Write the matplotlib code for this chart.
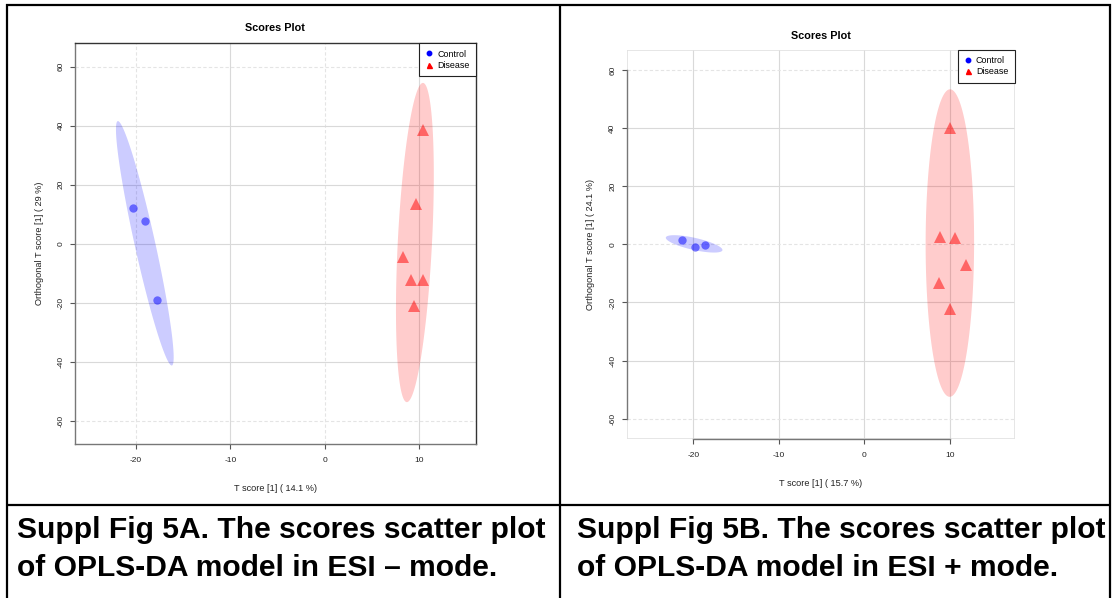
import numpy as np
import matplotlib.pyplot as plt
from matplotlib.lines import Line2D
from matplotlib.patches import Rectangle

plt.rcParams['font.family'] = ['Liberation Sans', 'DejaVu Sans']
plt.rcParams['axes.unicode_minus'] = False

# OPLS-DA scores, ESI - mode
neg_control_t = [-20.3, -19.1, -17.8]
neg_control_o = [12.0, 7.7, -19.2]
neg_disease_t = [10.45, 9.70, 8.26, 9.13, 10.38, 9.51]
neg_disease_o = [38.7, 13.6, -4.4, -12.1, -12.1, -21.1]

# OPLS-DA scores, ESI + mode
pos_control_t = [-21.3, -19.8, -18.6]
pos_control_o = [1.5, -0.9, -0.1]
pos_disease_t = [9.96, 8.84, 10.54, 11.87, 8.75, 9.96]
pos_disease_o = [40.2, 2.5, 2.3, -7.0, -13.2, -22.1]

groups = ['Control', 'Disease']
x_ticks = [-20, -10, 0, 10]
y_ticks = [-60, -40, -20, 0, 20, 40, 60]

neg_xlabel = 'T score [1] ( 14.1 %)'
neg_ylabel = 'Orthogonal T score [1] ( 29 %)'
pos_xlabel = 'T score [1] ( 15.7 %)'
pos_ylabel = 'Orthogonal T score [1] ( 24.1 %)'

neg_caption = ['Suppl Fig 5A. The scores scatter plot',
               'of OPLS-DA model in ESI \u2013 mode.']
pos_caption = ['Suppl Fig 5B. The scores scatter plot',
               'of OPLS-DA model in ESI + mode.']

W, H = 1113, 598


def conf_ellipse(x, y, level=0.95, n=300):
    # 95% ellipse from the group covariance (same as R's ellipse())
    x = np.asarray(x)
    y = np.asarray(y)
    cov = np.cov(x, y)
    r = np.sqrt(-2 * np.log(1 - level))
    chol = np.linalg.cholesky(cov)
    t = np.linspace(0, 2 * np.pi, n)
    pts = chol @ np.vstack([np.cos(t), np.sin(t)]) * r
    return x.mean() + pts[0], y.mean() + pts[1]


def px_axes(left, top, right, bottom):
    return [left / W, 1 - bottom / H, (right - left) / W, (bottom - top) / H]


def scores_plot(ax, ct, co, dt, do, xlabel, ylabel, xlim, ylim,
                solid_x, dashed_x, solid_y, dashed_y, boxed, title_pad):
    for v in solid_x:
        ax.axvline(v, color='#d9d9d9', lw=0.8, zorder=0)
    for v in dashed_x:
        ax.axvline(v, color='#e4e4e4', lw=0.8, ls=(0, (3, 2)), zorder=0)
    for v in solid_y:
        ax.axhline(v, color='#d9d9d9', lw=0.8, zorder=0)
    for v in dashed_y:
        ax.axhline(v, color='#e4e4e4', lw=0.8, ls=(0, (3, 2)), zorder=0)

    ex, ey = conf_ellipse(ct, co)
    ax.fill(ex, ey, color='blue', alpha=0.2, lw=0, zorder=1)
    ex, ey = conf_ellipse(dt, do)
    ax.fill(ex, ey, color='red', alpha=0.2, lw=0, zorder=1)

    ax.plot(ct, co, 'o', color='blue', alpha=0.5, ms=6, mew=0, zorder=2)
    ax.plot(dt, do, '^', color='red', alpha=0.5, ms=8, mew=0, zorder=2)

    ax.set_xlim(*xlim)
    ax.set_ylim(*ylim)
    ax.set_xticks(x_ticks)
    ax.set_yticks(y_ticks)
    ax.tick_params(labelsize=6, colors='#555555', labelcolor='#222222',
                   length=3.5, width=0.8, pad=6)
    ax.tick_params(axis='y', pad=4)
    for lab in ax.get_yticklabels():
        lab.set_rotation(90)
        lab.set_va('center')

    if boxed:
        for s in ['top', 'right']:
            ax.spines[s].set_color('#333333')
        for s in ['left', 'bottom']:
            ax.spines[s].set_color('#777777')
        for s in ax.spines.values():
            s.set_linewidth(1.0)
    else:
        ax.add_patch(Rectangle((0, 0), 1, 1, transform=ax.transAxes, fill=False,
                               edgecolor='#e2e2e2', lw=1.2, zorder=0.5))
        for s in ['top', 'right']:
            ax.spines[s].set_visible(False)
        ax.spines['left'].set_bounds(y_ticks[0], y_ticks[-1])
        ax.spines['bottom'].set_bounds(x_ticks[0], x_ticks[-1])
        for s in ['left', 'bottom']:
            ax.spines[s].set_color('#777777')
            ax.spines[s].set_linewidth(1.0)

    ax.set_xlabel(xlabel, fontsize=6.6, color='#222222', labelpad=14)
    ax.set_ylabel(ylabel, fontsize=6.6, color='#222222', labelpad=10)
    ax.set_title('Scores Plot', fontsize=7.8, fontweight='bold', pad=title_pad)

    handles = [Line2D([], [], marker='o', color='blue', ls='', ms=3.2),
               Line2D([], [], marker='^', color='red', ls='', ms=3.6)]
    leg = ax.legend(handles, groups, loc='upper right', fontsize=6.4,
                    borderaxespad=0, fancybox=False, framealpha=1,
                    edgecolor='#222222', handlelength=0.8, handletextpad=0.5,
                    borderpad=0.7, labelspacing=0.25)
    leg.get_frame().set_linewidth(0.8)
    leg.set_zorder(5)


fig = plt.figure(figsize=(W / 100, H / 100), dpi=100)

ax1 = fig.add_axes(px_axes(75, 43.3, 475.7, 444.3))
scores_plot(ax1, neg_control_t, neg_control_o, neg_disease_t, neg_disease_o,
            neg_xlabel, neg_ylabel, (-26.47, 16.02), (-67.9, 67.9),
            [-10, 10], [-20, 0], [40, 20, 0, -20, -40], [60, -60],
            boxed=True, title_pad=8.5)

ax2 = fig.add_axes(px_axes(626.7, 50, 1014.5, 439))
scores_plot(ax2, pos_control_t, pos_control_o, pos_disease_t, pos_disease_o,
            pos_xlabel, pos_ylabel, (-27.78, 17.54), (-67.0, 66.9),
            [-20, -10, 0, 10], [], [40, 20, -20, -40], [60, 0, -60],
            boxed=False, title_pad=8)


# table rules around the two panels
def rule(x0, y0, x1, y1):
    fig.add_artist(Line2D([x0 / W, x1 / W], [1 - y0 / H, 1 - y1 / H],
                          color='black', lw=1.6, solid_capstyle='butt'))


rule(6, 5, 1111, 5)
rule(7, 4, 7, 598)
rule(1110, 4, 1110, 598)
rule(560, 5, 560, 598)
rule(7, 505, 1110, 505)

for x0, lines in [(17, neg_caption), (577, pos_caption)]:
    for y0, line in zip([530, 568], lines):
        fig.text(x0 / W, 1 - y0 / H, line, fontsize=21.6, fontweight='bold',
                 va='center', ha='left')

fig.savefig('out.png', dpi=100)
